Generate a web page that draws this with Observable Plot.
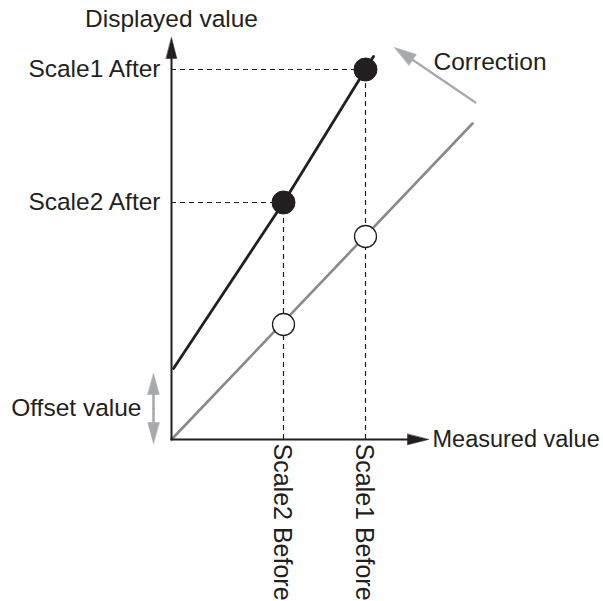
<!DOCTYPE html>
<html><head><meta charset="utf-8">
<script src="https://cdn.jsdelivr.net/npm/d3@7"></script>
<script src="https://cdn.jsdelivr.net/npm/@observablehq/plot@0.6"></script>
<style>body{margin:0;background:#fff;}</style>
</head><body><div id="chart"></div>
<script>
// ---- data (1 unit = 10 px) ----
const scaleNames = ["Scale1", "Scale2"];
const measuredBefore = [19.4, 11.2];
const displayedBefore = [20.3, 11.5];
const displayedAfter = [37.0, 23.7];
const xTickLabels = ["Scale1 Before", "Scale2 Before"];
const yTickLabels = ["Scale1 After", "Scale2 After"];
const uncorrectedX = [0, 30.1];
const uncorrectedY = [0, 31.6];
const correctedX = [0.2, 11.2, 19.4, 20.2];
const correctedY = [7.1, 23.7, 37.0, 38.3];
const xAxisEnd = 25.7;
const yAxisEnd = 40.2;
const offsetArrowX = -1.8;
const offsetArrowY = [6.6, -0.4];
const correctionFrom = [30.4, 33.7];
const correctionTo = [22.3, 39.2];
const axisTitles = ["Measured value", "Displayed value"];
const offsetLabel = "Offset value";
const correctionLabel = "Correction";

// ---- helpers ----
const pts = scaleNames.map((s, i) => ({s, mx: measuredBefore[i], before: displayedBefore[i], after: displayedAfter[i], xl: xTickLabels[i], yl: yTickLabels[i]}));
const uncorrected = uncorrectedX.map((x, i) => ({x, y: uncorrectedY[i]}));
const corrected = correctedX.map((x, i) => ({x, y: correctedY[i]}));
function arrowParts(from, to, back) {
  const dx = to[0] - from[0], dy = to[1] - from[1];
  const d = Math.hypot(dx, dy);
  const end = [to[0] - dx / d * back, to[1] - dy / d * back];
  return {line: [{x: from[0], y: from[1]}, {x: end[0], y: end[1]}], tip: {x: to[0], y: to[1], rot: Math.atan2(dx, dy) * 180 / Math.PI}};
}
const yAxis = arrowParts([0, 0], [0, yAxisEnd], 1.0);
const xAxis = arrowParts([0, 0], [xAxisEnd, 0], 1.0);
const mid = (offsetArrowY[0] + offsetArrowY[1]) / 2;
const offUp = arrowParts([offsetArrowX, mid], [offsetArrowX, offsetArrowY[0]], 1.0);
const offDown = arrowParts([offsetArrowX, mid], [offsetArrowX, offsetArrowY[1]], 1.0);
const corr = arrowParts(correctionFrom, correctionTo, 1.2);
const head = {draw(ctx, l, r) { ctx.moveTo(0, -l); ctx.lineTo(r, 0); ctx.lineTo(-r, 0); ctx.closePath(); }};

const ink = "#231f20", gray = "#8a8a8a", light = "#a7a9ac";
const font = "Liberation Sans, Arial, Helvetica, sans-serif";
const fs = 24.5;

const chart = Plot.plot({
  width: 603, height: 601,
  marginLeft: 171, marginRight: 0, marginTop: 0, marginBottom: 162,
  x: {domain: [0, 43.2], axis: null},
  y: {domain: [0, 43.9], axis: null},
  style: {fontFamily: font, color: ink, background: "white", overflow: "visible"},
  marks: [
    // dashed guides
    Plot.ruleY(pts, {y: "after", x1: 0, x2: "mx", stroke: ink, strokeWidth: 1.2, strokeDasharray: "5,4"}),
    Plot.ruleX(pts, {x: "mx", y1: 0, y2: "after", stroke: ink, strokeWidth: 1.2, strokeDasharray: "5,4"}),
    // lines
    Plot.line(uncorrected, {x: "x", y: "y", stroke: gray, strokeWidth: 2.6}),
    Plot.line(corrected, {x: "x", y: "y", stroke: ink, strokeWidth: 2.8}),
    // axes
    Plot.line(yAxis.line, {x: "x", y: "y", stroke: ink, strokeWidth: 2}),
    Plot.line(xAxis.line, {x: "x", y: "y", stroke: ink, strokeWidth: 2}),
    Plot.vector([yAxis.tip, xAxis.tip], {x: "x", y: "y", rotate: "rot", length: 21, r: 5.3, anchor: "end", shape: head, fill: ink, stroke: ink, strokeWidth: 0.5}),
    // offset arrow
    Plot.line(offUp.line, {x: "x", y: "y", stroke: light, strokeWidth: 2.5}),
    Plot.line(offDown.line, {x: "x", y: "y", stroke: light, strokeWidth: 2.5}),
    Plot.vector([offUp.tip, offDown.tip], {x: "x", y: "y", rotate: "rot", length: 21, r: 5.8, anchor: "end", shape: head, fill: light, stroke: light, strokeWidth: 0.5}),
    // correction arrow
    Plot.line(corr.line, {x: "x", y: "y", stroke: light, strokeWidth: 2.2}),
    Plot.vector([corr.tip], {x: "x", y: "y", rotate: "rot", length: 22, r: 6.5, anchor: "end", shape: head, fill: light, stroke: light, strokeWidth: 0.5}),
    // points
    Plot.dot(pts, {x: "mx", y: "before", r: 11, fill: "white", stroke: ink, strokeWidth: 1.3}),
    Plot.dot(pts, {x: "mx", y: "after", r: 11.5, fill: ink, stroke: ink, strokeWidth: 1}),
    // labels
    Plot.text(pts, {x: 0, y: "after", text: "yl", textAnchor: "end", dx: -11, fontSize: fs, fill: ink}),
    Plot.text(pts, {x: "mx", y: 0, text: "xl", rotate: 90, textAnchor: "start", dx: -2, dy: 4, fontSize: 25, fill: ink}),
    Plot.text([axisTitles[1]], {x: 0, y: 42.0, text: d => d, textAnchor: "middle", fontSize: fs, fill: ink}),
    Plot.text([axisTitles[0]], {x: xAxisEnd, y: 0, text: d => d, textAnchor: "start", dx: 4, fontSize: 23.5, fill: ink}),
    Plot.text([offsetLabel], {x: offsetArrowX, y: mid, text: d => d, textAnchor: "end", dx: -12, fontSize: fs, fill: ink}),
    Plot.text([correctionLabel], {x: 26.2, y: 37.7, text: d => d, textAnchor: "start", fontSize: fs, fill: ink})
  ]
});
document.getElementById("chart").appendChild(chart);
</script>
</body></html>
